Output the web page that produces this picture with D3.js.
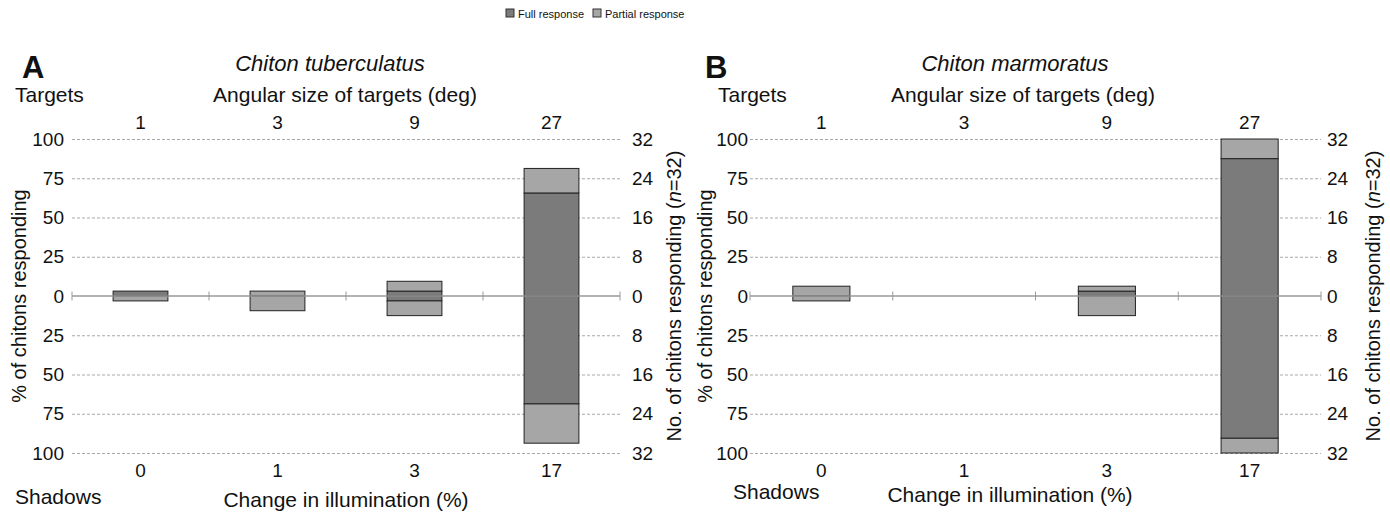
<html>
<head>
<style>
  body { margin: 0; background: #fff; }
  text { font-family: "Liberation Sans", Arial, sans-serif; fill: #111; }
</style>
</head>
<body>
<div id="chart"></div>
<script src="https://d3js.org/d3.v7.min.js"></script>
<script>
var targetSizes = ["1", "3", "9", "27"];
var illumination = ["0", "1", "3", "17"];

// counts of chitons (n = 32) per column
var aTargetsFull = [1, 0, 1, 21];
var aTargetsPartial = [0, 1, 2, 5];
var aShadowsFull = [0, 0, 1, 22];
var aShadowsPartial = [1, 3, 3, 8];

var bTargetsFull = [0, 0, 1, 28];
var bTargetsPartial = [2, 0, 1, 4];
var bShadowsFull = [0, 0, 0, 29];
var bShadowsPartial = [1, 0, 4, 3];

var pctTicks = [-100, -75, -50, -25, 0, 25, 50, 75, 100];
var countTicks = [-32, -24, -16, -8, 0, 8, 16, 24, 32];

var width = 1390, height = 516;
var fullColor = "#7b7b7b", partialColor = "#a6a6a6";
var tickFont = 19, titleFont = 21;

var svg = d3.select("#chart").append("svg")
  .attr("width", width).attr("height", height);

// legend
var legend = svg.append("g").attr("transform", "translate(506,13)");
[["Full response", fullColor, 0], ["Partial response", partialColor, 87]].forEach(function (l) {
  legend.append("rect").attr("x", l[2]).attr("y", -4).attr("width", 8).attr("height", 8)
    .attr("fill", l[1]).attr("stroke", "#333").attr("stroke-width", 1);
  legend.append("text").attr("x", l[2] + 12).attr("y", 4.5).attr("font-size", 11).text(l[0]);
});

function styleTicks(sel) {
  sel.selectAll(".tick text").attr("font-size", tickFont)
    .attr("font-family", "Liberation Sans, Arial, sans-serif").attr("fill", "#111");
}

function panel(opt) {
  var g = svg.append("g");
  var x = d3.scaleBand().domain(d3.range(4)).range([opt.x0, opt.x1]).paddingInner(0).paddingOuter(0);
  var y = d3.scaleLinear().domain([-100, 100]).range([453, 139]);
  var yc = d3.scaleLinear().domain([-32, 32]).range([453, 139]);

  // dashed grid + left labels
  var left = g.append("g").attr("transform", "translate(" + opt.x0 + ",0)")
    .call(d3.axisLeft(y).tickValues(pctTicks).tickSize(-(opt.x1 - opt.x0))
      .tickPadding(opt.leftPad).tickFormat(function (d) { return Math.abs(d); }));
  left.select(".domain").remove();
  left.selectAll(".tick line").attr("stroke", "#a9a9a9").attr("stroke-dasharray", "3,2")
    .filter(function (d) { return d === 0; }).remove();
  styleTicks(left);

  var right = g.append("g").attr("transform", "translate(" + opt.x1 + ",0)")
    .call(d3.axisRight(yc).tickValues(countTicks).tickSize(0)
      .tickPadding(opt.rightPad).tickFormat(function (d) { return Math.abs(d); }));
  right.select(".domain").remove();
  styleTicks(right);

  // zero line with band ticks
  g.selectAll(".zt").data(d3.range(5)).enter().append("line")
    .attr("x1", function (d) { return opt.x0 + d * x.step(); })
    .attr("x2", function (d) { return opt.x0 + d * x.step(); })
    .attr("y1", y(0) - 4.5).attr("y2", y(0) + 4.5)
    .attr("stroke", "#9a9a9a").attr("stroke-width", 1);

  // bars
  var bw = x.bandwidth() * 0.4;
  function seg(i, from, n, color, sign) {
    if (n <= 0) return;
    var ya = yc(sign * from), yb = yc(sign * (from + n));
    g.append("rect")
      .attr("x", x(i) + (x.bandwidth() - bw) / 2)
      .attr("y", Math.min(ya, yb)).attr("width", bw).attr("height", Math.abs(yb - ya))
      .attr("fill", color).attr("stroke", "#222").attr("stroke-width", 1);
  }
  d3.range(4).forEach(function (i) {
    seg(i, 0, opt.tFull[i], fullColor, 1);
    seg(i, opt.tFull[i], opt.tPartial[i], partialColor, 1);
    seg(i, 0, opt.sFull[i], fullColor, -1);
    seg(i, opt.sFull[i], opt.sPartial[i], partialColor, -1);
  });
  g.append("line").attr("x1", opt.x0).attr("x2", opt.x1).attr("y1", y(0)).attr("y2", y(0))
    .attr("stroke", "#9a9a9a").attr("stroke-width", 1.5);

  // category labels top and bottom
  var top = g.append("g").attr("transform", "translate(0,132)")
    .call(d3.axisTop(x).tickSize(0).tickFormat(function (d) { return targetSizes[d]; }));
  top.select(".domain").remove();
  styleTicks(top);
  var bottom = g.append("g").attr("transform", "translate(0,460)")
    .call(d3.axisBottom(x).tickSize(0).tickFormat(function (d) { return illumination[d]; }));
  bottom.select(".domain").remove();
  styleTicks(bottom);

  // titles
  g.append("text").attr("x", opt.letterX).attr("y", 78).attr("font-size", 31).attr("font-weight", "bold").text(opt.letter);
  g.append("text").attr("x", opt.speciesX).attr("y", 71).attr("font-size", 22).attr("font-style", "italic")
    .attr("text-anchor", "middle").text(opt.species);
  g.append("text").attr("x", opt.targetsX).attr("y", 102).attr("font-size", titleFont).text("Targets");
  g.append("text").attr("x", opt.angX).attr("y", 102).attr("font-size", titleFont).attr("text-anchor", "middle")
    .text("Angular size of targets (deg)");
  g.append("text").attr("x", opt.shadowsX).attr("y", opt.shadowsY).attr("font-size", titleFont).text("Shadows");
  g.append("text").attr("x", opt.illX).attr("y", opt.shadowsY + 3).attr("font-size", titleFont).attr("text-anchor", "middle")
    .text("Change in illumination (%)");

  g.append("text").attr("transform", "translate(" + opt.leftTitleX + ",296) rotate(-90)")
    .attr("font-size", 20).attr("text-anchor", "middle").text("% of chitons responding");
  var rt = g.append("text").attr("transform", "translate(" + opt.rightTitleX + ",296) rotate(-90)")
    .attr("font-size", 20).attr("text-anchor", "middle");
  rt.append("tspan").text("No. of chitons responding (");
  rt.append("tspan").attr("font-style", "italic").text("n");
  rt.append("tspan").text("=32)");
}

panel({
  x0: 72, x1: 620, leftPad: 8, rightPad: 12,
  tFull: aTargetsFull, tPartial: aTargetsPartial, sFull: aShadowsFull, sPartial: aShadowsPartial,
  letter: "A", letterX: 22, species: "Chiton tuberculatus", speciesX: 330,
  targetsX: 15, angX: 345, shadowsX: 15, shadowsY: 504, illX: 346,
  leftTitleX: 26, rightTitleX: 681
});

panel({
  x0: 750, x1: 1321, leftPad: 2, rightPad: 6,
  tFull: bTargetsFull, tPartial: bTargetsPartial, sFull: bShadowsFull, sPartial: bShadowsPartial,
  letter: "B", letterX: 705, species: "Chiton marmoratus", speciesX: 1015,
  targetsX: 718, angX: 1023, shadowsX: 733, shadowsY: 499, illX: 1010,
  leftTitleX: 712, rightTitleX: 1380
});
</script>
</body>
</html>
